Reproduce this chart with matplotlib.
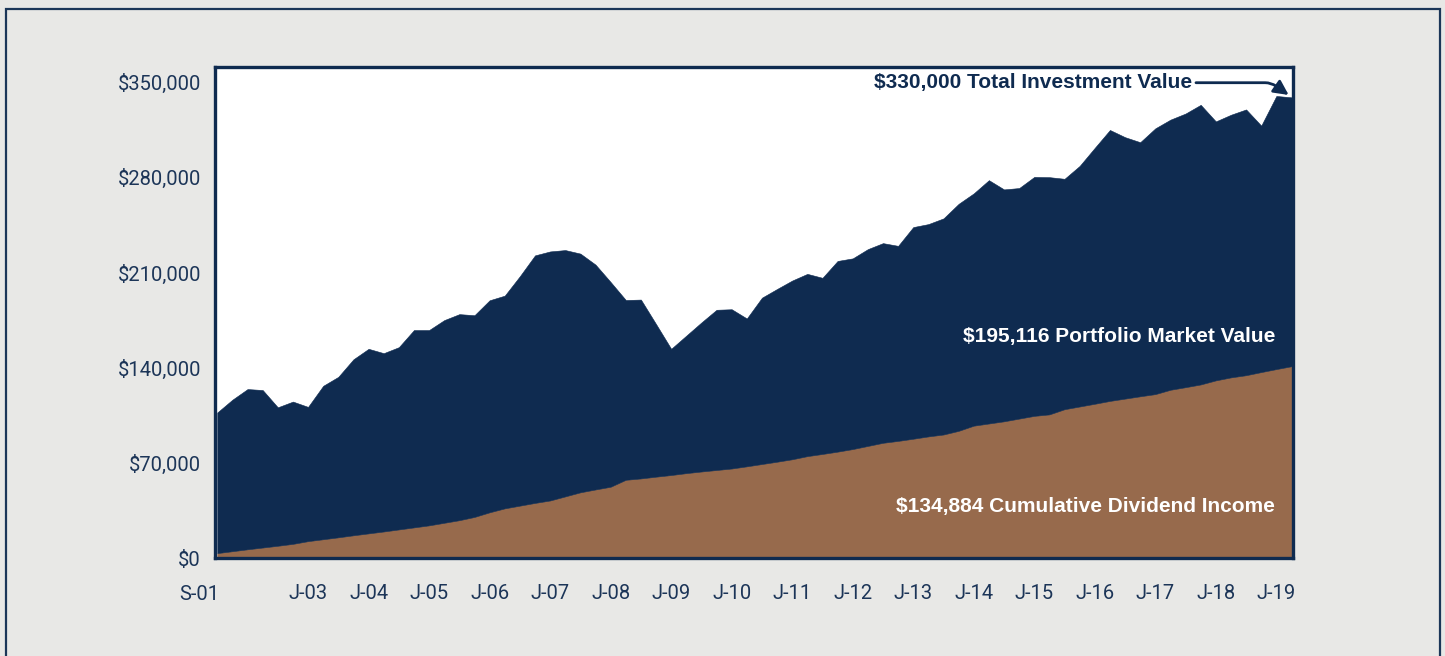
# -*- coding: utf-8 -*-

# Import libraries
import numpy as np
import pandas as pd
import matplotlib
matplotlib.use("Agg")
import matplotlib.pyplot as plt
from matplotlib.patches import Rectangle
from matplotlib.ticker import StrMethodFormatter
import matplotlib.transforms as mtransforms


# quarterly values, first quarter = Sep 2001
total_value = [107000, 116400, 124200, 123500, 110800, 115000, 111100, 126600,
               133200, 146100, 153800, 150600, 155000, 167600, 167600, 174900,
               179300, 178500, 189500, 192900, 207200, 222500, 225400, 226400,
               223800, 215700, 202900, 189700, 190000, 172000, 153800, 163500,
               173200, 182500, 182900, 176100, 191400, 197800, 204000, 208900,
               206000, 218400, 220300, 227100, 231500, 229500, 243300, 245500,
               249700, 260400, 268100, 277800, 271000, 272000, 280200, 280000,
               278800, 288300, 301600, 314700, 309400, 305700, 315900, 322300,
               326800, 333200, 321000, 325900, 329800, 317900, 339700, 338700]

dividend_income = [3600, 5000, 6400, 7700, 9000, 10400, 12400, 13800,
                   15200, 16700, 18100, 19500, 21000, 22500, 24000, 25900,
                   27800, 30200, 33600, 36500, 38500, 40500, 42300, 45300,
                   48300, 50400, 52400, 57500, 58500, 59800, 61000, 62400,
                   63600, 64700, 65800, 67400, 69100, 70800, 72600, 74900,
                   76500, 78200, 80100, 82400, 84700, 86100, 87700, 89400,
                   90800, 93500, 97300, 98900, 100500, 102500, 104500, 105600,
                   109400, 111400, 113400, 115500, 117200, 118900, 120500, 123700,
                   125600, 127600, 130600, 132800, 134400, 136700, 138900, 141000]

y_ticks = [0, 70000, 140000, 210000, 280000, 350000]

label_total = "$330,000 Total Investment Value"
label_market = "$195,116 Portfolio Market Value"
label_dividend = "$134,884 Cumulative Dividend Income"


def main():

    navy = "#0F2B50"
    brown = "#976A4C"
    text_navy = "#1C3558"
    bg = "#E8E8E6"

    quarters = pd.period_range("2001Q3", periods=len(total_value), freq="Q")
    idx = np.arange(len(quarters))

    fig = plt.figure(figsize=(14.45, 6.56), dpi=100, facecolor=bg)

    # outer frame
    fig.patches.append(Rectangle((5.5 / 1445, -0.05), 1434 / 1445, 1.05 - 9 / 656,
                                 transform=fig.transFigure, fill=False,
                                 edgecolor="#1B3658", linewidth=1.6))

    ax = fig.add_axes([215 / 1445, 1 - 558 / 656, 1078 / 1445, 491 / 656])
    ax.set_facecolor("white")

    ax.fill_between(idx, 0, dividend_income, color=brown, linewidth=0.4, edgecolor=brown)
    ax.fill_between(idx, dividend_income, total_value, color=navy, linewidth=0.4, edgecolor=navy)

    ax.set_xlim(-0.15, idx[-1] + 0.1)
    ax.set_ylim(3500, 361000)

    for s in ax.spines.values():
        s.set_color(navy)
        s.set_linewidth(2.4)

    ax.set_yticks(y_ticks)
    ax.yaxis.set_major_formatter(StrMethodFormatter("${x:,.0f}"))

    jan_idx = [i for i, q in enumerate(quarters) if q.quarter == 1 and q.year >= 2003]
    ax.set_xticks(jan_idx)
    ax.set_xticklabels(["J-" + quarters[i].strftime("%y") for i in jan_idx])

    ax.tick_params(axis="both", length=0, labelsize=14.5, labelcolor=text_navy)
    ax.tick_params(axis="x", pad=19)
    ax.tick_params(axis="y", pad=10)
    for lab in ax.get_xticklabels() + ax.get_yticklabels():
        lab.set_fontfamily(["Roboto", "DejaVu Sans"])

    # first label, pushed left of the axis start
    trans = mtransforms.blended_transform_factory(ax.transData, ax.transAxes)
    ax.annotate("S-" + quarters[0].strftime("%y"), xy=(0, 0), xycoords=trans,
                xytext=(-13, -19.3), textcoords="offset points", ha="center", va="top",
                fontsize=14.5, color=text_navy, family=["Roboto", "DejaVu Sans"])

    bold = dict(fontsize=15, fontweight="bold", family=["Liberation Sans", "DejaVu Sans"])

    ax.text(0.9063, 0.968, label_total, transform=ax.transAxes, ha="right", va="center",
            color=navy, **bold)
    ax.annotate("", xy=(0.996, 0.943), xycoords="axes fraction",
                xytext=(0.910, 0.968), textcoords="axes fraction",
                arrowprops=dict(arrowstyle="-|>", color=navy, lw=2,
                                connectionstyle="angle,angleA=0,angleB=-35,rad=6",
                                mutation_scale=22, shrinkA=0, shrinkB=0))

    ax.text(0.9836, 0.452, label_market, transform=ax.transAxes, ha="right", va="center",
            color="white", **bold)
    ax.text(0.9836, 0.1045, label_dividend, transform=ax.transAxes, ha="right", va="center",
            color="white", **bold)

    fig.savefig("out.png", dpi=100, facecolor=bg)
    plt.close()


if __name__ == "__main__":
    main()
